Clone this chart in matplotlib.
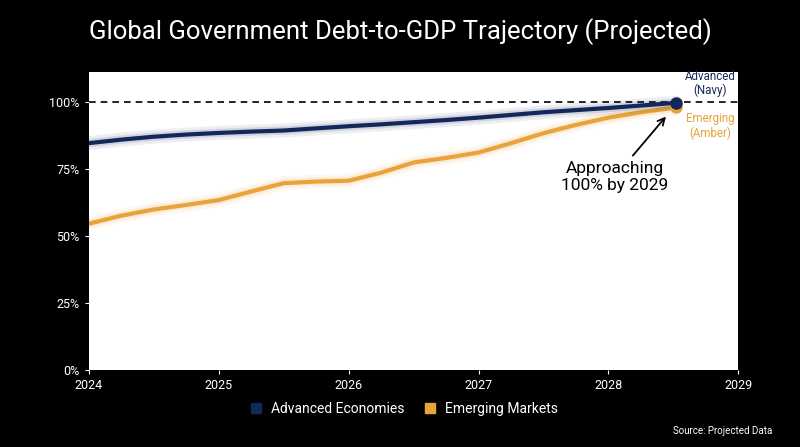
import numpy as np
import matplotlib.pyplot as plt
from matplotlib.lines import Line2D

plt.rcParams['font.family'] = ['Roboto', 'DejaVu Sans']

# values
years = [2024.0, 2024.25, 2024.5, 2024.75, 2025.0, 2025.25, 2025.5, 2025.75, 2026.0,
         2026.25, 2026.5, 2026.75, 2027.0, 2027.25, 2027.5, 2027.75, 2028.0, 2028.25, 2028.52]
advanced = [84.5, 85.8, 86.9, 87.7, 88.3, 88.8, 89.2, 90.0, 90.8,
            91.5, 92.3, 93.1, 94.0, 95.0, 96.0, 96.8, 97.6, 98.5, 99.5]
emerging = [54.5, 57.5, 59.8, 61.5, 63.3, 66.5, 69.6, 70.2, 70.5,
            73.5, 77.3, 79.0, 81.0, 84.5, 88.2, 91.3, 94.0, 96.0, 97.8]

navy = '#14275a'
amber = '#e8a33a'

fig = plt.figure(figsize=(8, 4.47), dpi=100, facecolor='black')
ax = fig.add_axes([0.111, 0.172, 0.812, 0.667])
ax.set_facecolor('white')

ax.axhline(100, color='black', linestyle='--', linewidth=1.2, dashes=(4, 3))

for vals, col in [(emerging, amber), (advanced, navy)]:
    ax.plot(years, vals, color=col, linewidth=10, alpha=0.08, solid_capstyle='round')
    ax.plot(years, vals, color=col, linewidth=6, alpha=0.12, solid_capstyle='round')
    ax.plot(years, vals, color=col, linewidth=3, solid_capstyle='round')

ax.plot(years[-1], emerging[-1], 'o', color=amber, markersize=8)
ax.plot(years[-1], advanced[-1], 'o', color=navy, markersize=8)

ax.text(2028.78, 101.5, 'Advanced\n(Navy)', color=navy, fontsize=8.3, ha='center', va='bottom', linespacing=1.1)
ax.text(2028.78, 96, 'Emerging\n(Amber)', color=amber, fontsize=8.3, ha='center', va='top', linespacing=1.1)
ax.annotate('Approaching\n100% by 2029', xy=(2028.47, 96), xytext=(2028.05, 72),
            ha='center', va='center', fontsize=12.5, color='black',
            arrowprops=dict(arrowstyle='->', color='black', lw=1.3, shrinkB=4))

ax.set_xlim(2024, 2029)
ax.set_ylim(0, 111)
ax.set_xticks([2024, 2025, 2026, 2027, 2028, 2029])
ax.set_xticklabels(['2024', '2025', '2026', '2027', '2028', '2029'])
ax.set_yticks([0, 25, 50, 75, 100])
ax.set_yticklabels(['0%', '25%', '50%', '75%', '100%'])
ax.tick_params(colors='white', labelsize=9)
ax.tick_params(axis='both', color='white', length=3)
for s in ax.spines.values():
    s.set_visible(False)

fig.text(0.5, 0.93, 'Global Government Debt-to-GDP Trajectory (Projected)', color='white',
         fontsize=18.5, ha='center', va='center')

handles = [Line2D([], [], marker='s', linestyle='', color=navy, markersize=7),
           Line2D([], [], marker='s', linestyle='', color=amber, markersize=7)]
fig.legend(handles, ['Advanced Economies', 'Emerging Markets'], loc='center', bbox_to_anchor=(0.5, 0.085),
           ncol=2, frameon=False, labelcolor='white', fontsize=10, handletextpad=0.1, columnspacing=0.8)

fig.text(0.965, 0.025, 'Source: Projected Data', color='white', fontsize=7, ha='right', va='bottom')

fig.savefig('out.png', dpi=100, facecolor='black')
